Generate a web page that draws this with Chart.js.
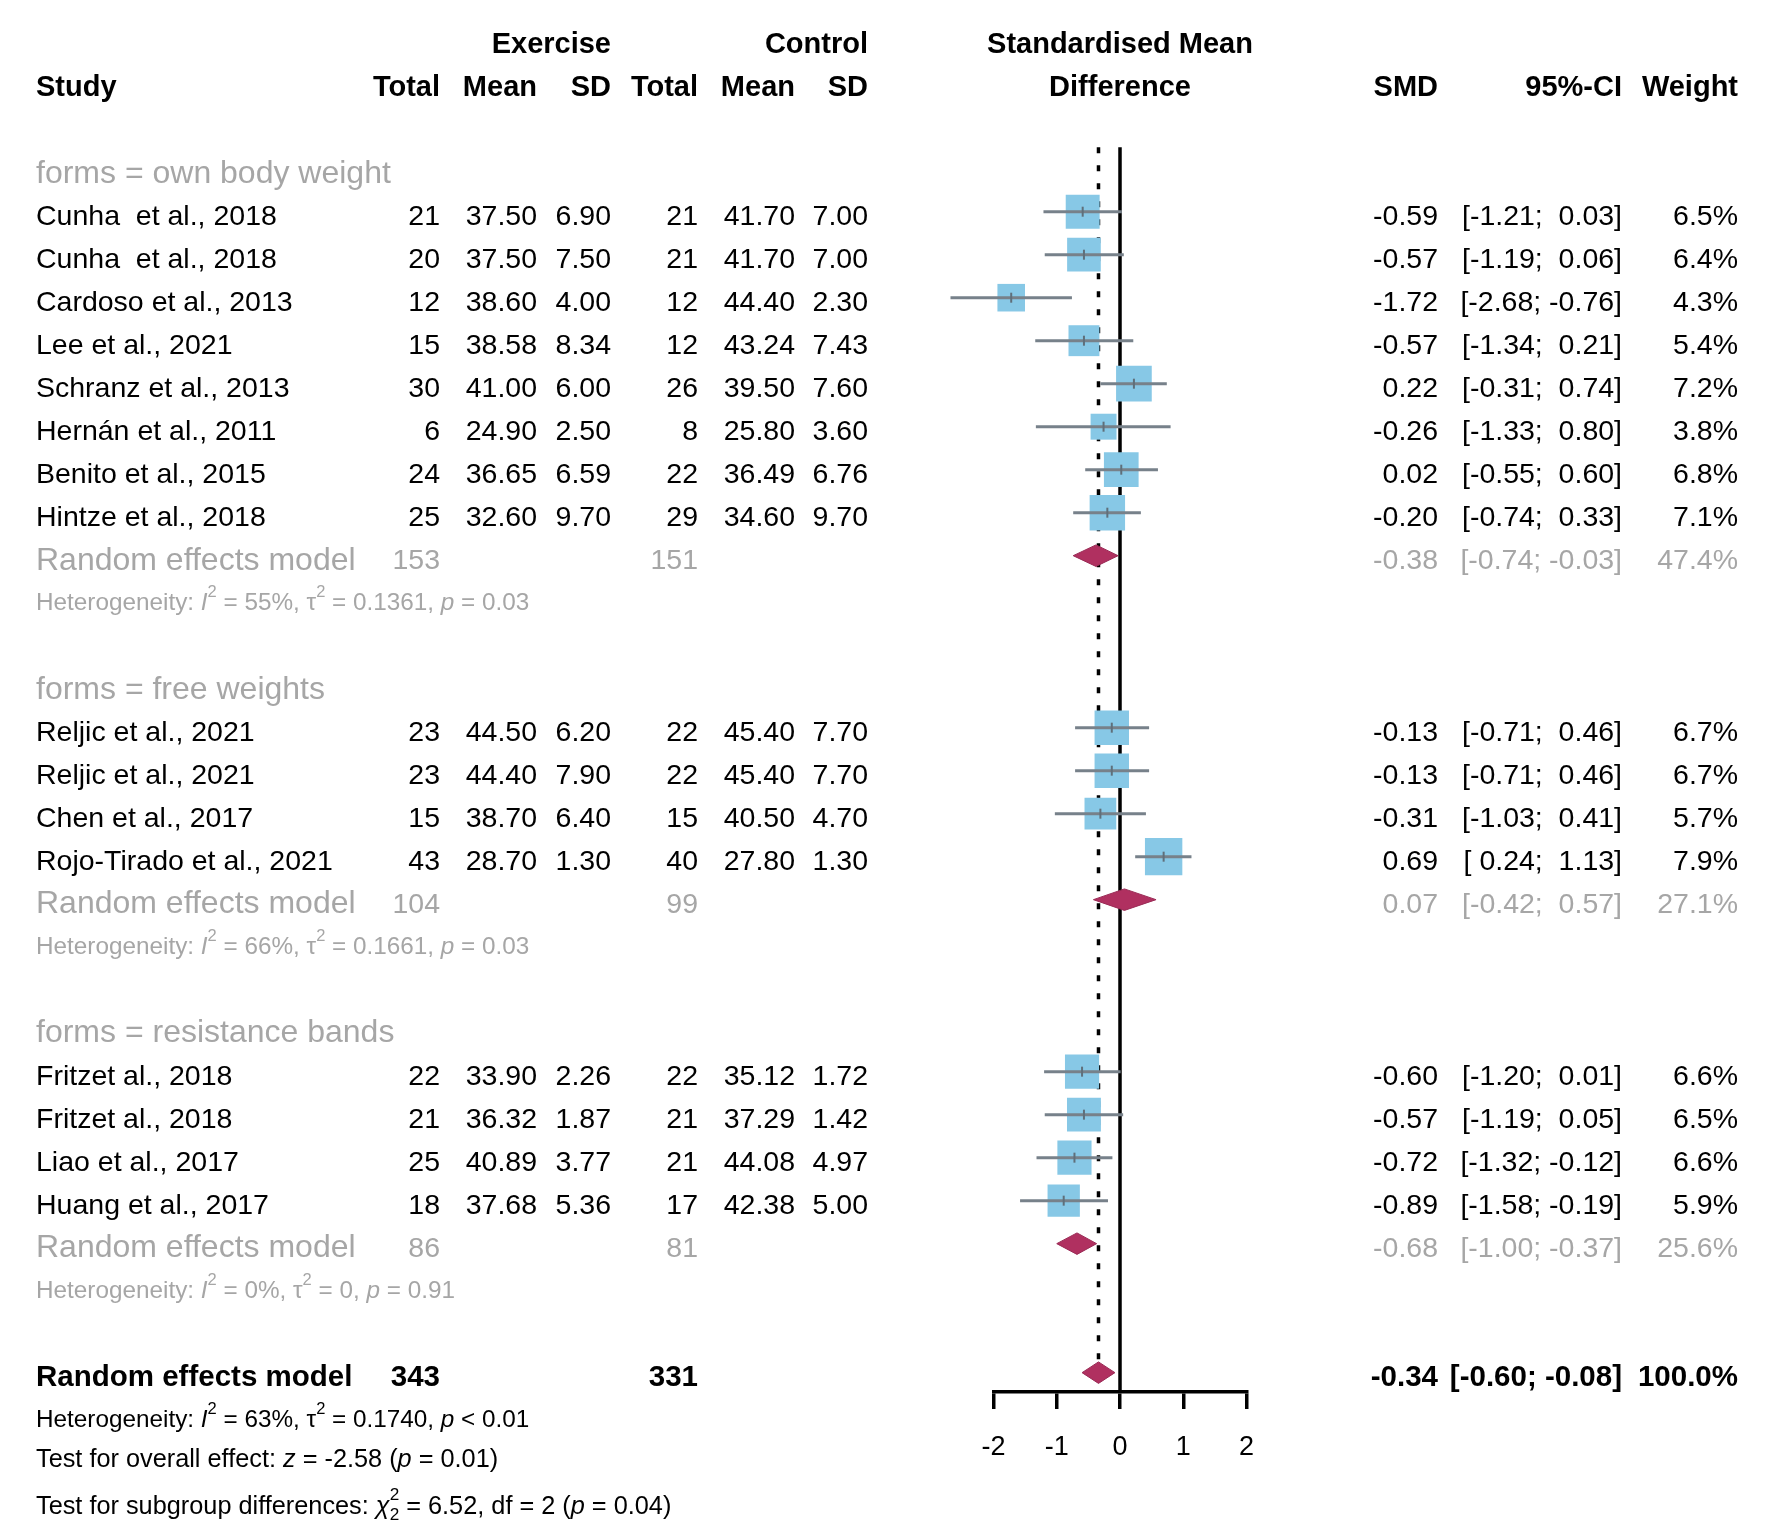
<!DOCTYPE html>
<html>
<head>
<meta charset="utf-8">
<title>Forest plot</title>
<script src="https://cdn.jsdelivr.net/npm/chart.js@4.4.1/dist/chart.umd.min.js"></script>
<style>
  html, body { margin: 0; padding: 0; background: #fff; }
  canvas { display: block; }
</style>
</head>
<body>
<canvas id="forest" width="1772" height="1539" style="width:1772px;height:1539px"></canvas>
<script>
// ---- data ----
const groupNames = ['own body weight', 'free weights', 'resistance bands'];

const studyGroup = [0, 0, 0, 0, 0, 0, 0, 0, 1, 1, 1, 1, 2, 2, 2, 2];
const studyNames = [
    'Cunha  et al., 2018', 'Cunha  et al., 2018', 'Cardoso et al., 2013', 'Lee et al., 2021',
    'Schranz et al., 2013', 'Hernán et al., 2011', 'Benito et al., 2015', 'Hintze et al., 2018',
    'Reljic et al., 2021', 'Reljic et al., 2021', 'Chen et al., 2017', 'Rojo-Tirado et al., 2021',
    'Fritzet al., 2018', 'Fritzet al., 2018', 'Liao et al., 2017', 'Huang et al., 2017'
];
const expTotal = [21, 20, 12, 15, 30, 6, 24, 25, 23, 23, 15, 43, 22, 21, 25, 18];
const expMean = [37.50, 37.50, 38.60, 38.58, 41.00, 24.90, 36.65, 32.60, 44.50, 44.40, 38.70, 28.70, 33.90, 36.32, 40.89, 37.68];
const expSD = [6.90, 7.50, 4.00, 8.34, 6.00, 2.50, 6.59, 9.70, 6.20, 7.90, 6.40, 1.30, 2.26, 1.87, 3.77, 5.36];
const ctrlTotal = [21, 21, 12, 12, 26, 8, 22, 29, 22, 22, 15, 40, 22, 21, 21, 17];
const ctrlMean = [41.70, 41.70, 44.40, 43.24, 39.50, 25.80, 36.49, 34.60, 45.40, 45.40, 40.50, 27.80, 35.12, 37.29, 44.08, 42.38];
const ctrlSD = [7.00, 7.00, 2.30, 7.43, 7.60, 3.60, 6.76, 9.70, 7.70, 7.70, 4.70, 1.30, 1.72, 1.42, 4.97, 5.00];
const smd = [-0.59, -0.57, -1.72, -0.57, 0.22, -0.26, 0.02, -0.20, -0.13, -0.13, -0.31, 0.69, -0.60, -0.57, -0.72, -0.89];
const ciLow = [-1.21, -1.19, -2.68, -1.34, -0.31, -1.33, -0.55, -0.74, -0.71, -0.71, -1.03, 0.24, -1.20, -1.19, -1.32, -1.58];
const ciHigh = [0.03, 0.06, -0.76, 0.21, 0.74, 0.80, 0.60, 0.33, 0.46, 0.46, 0.41, 1.13, 0.01, 0.05, -0.12, -0.19];
const weight = [6.5, 6.4, 4.3, 5.4, 7.2, 3.8, 6.8, 7.1, 6.7, 6.7, 5.7, 7.9, 6.6, 6.5, 6.6, 5.9];

const groupExpTotal = [153, 104, 86];
const groupCtrlTotal = [151, 99, 81];
const groupSmd = [-0.38, 0.07, -0.68];
const groupLow = [-0.74, -0.42, -1.00];
const groupHigh = [-0.03, 0.57, -0.37];
const groupWeight = [47.4, 27.1, 25.6];
const groupI2 = ['55%', '66%', '0%'];
const groupTau2 = ['0.1361', '0.1661', '0'];
const groupP = ['= 0.03', '= 0.03', '= 0.91'];

const overallExpTotal = 343;
const overallCtrlTotal = 331;
const overallSmd = -0.34;
const overallLow = -0.60;
const overallHigh = -0.08;
const overallWeight = 100.0;
const overallI2 = '63%';
const overallTau2 = '0.1740';
const overallP = '< 0.01';
const overallZ = '-2.58';
const overallZp = '= 0.01';
const subgroupChi2 = '6.52';
const subgroupDf = '2';
const subgroupP = '= 0.04';

const tickValues = [-2, -1, 0, 1, 2];
const tickLabels = ['-2', '-1', '0', '1', '2'];

// ---- layout / style ----
const FONT = '"Liberation Sans", Arial, sans-serif';
const GREY = '#a6a6a6';
const rowTop = -0.5;       // top end of the reference lines
const rowAxis = 28.45;     // row where the x axis sits
const textShift = 5;
const squareScale = 13.3;
const diamondHalf = 0.25;
const col = { study: 36, eTot: 440, eMean: 537, eSD: 611, cTot: 698, cMean: 795, cSD: 868, smd: 1438, ci: 1622, wt: 1738 };

// rows: group header, studies, random effects, heterogeneity, blank
const studyRow = [];
const groupHeaderRow = [];
const groupRERow = [];
const groupHetRow = [];
let r = 0;
groupNames.forEach((g, gi) => {
    groupHeaderRow.push(r);
    studyGroup.forEach((sg, i) => { if (sg === gi) { r += 1; studyRow[i] = r; } });
    groupRERow.push(r + 1);
    groupHetRow.push(r + 2);
    r += 4;
});
const overallRow = r;

const fmt2 = v => v.toFixed(2);
const ciText = (lo, hi) => {
    const f = v => (v < 0 ? '' : ' ') + v.toFixed(2);
    return '[' + f(lo) + '; ' + f(hi) + ']';
};

// ---- datasets ----
const ciPoints = [];
smd.forEach((v, i) => {
    ciPoints.push({ x: ciLow[i], y: studyRow[i] }, { x: ciHigh[i], y: studyRow[i] }, { x: null, y: null });
});
const squarePoints = smd.map((v, i) => ({ x: v, y: studyRow[i] }));
const squareRadius = weight.map(w => squareScale * Math.sqrt(w) / Math.SQRT2);

function setFont(ctx, size, bold, italic) {
    ctx.font = (italic ? 'italic ' : '') + (bold ? 'bold ' : '') + size + 'px ' + FONT;
}

function put(ctx, text, x, y, align, size, color, bold) {
    setFont(ctx, size, bold, false);
    ctx.fillStyle = color;
    ctx.textAlign = align;
    ctx.fillText(text, x, y);
}

// runs of text with italics, superscripts and stacked sub/superscripts
function putRuns(ctx, runs, x, y, size, color) {
    ctx.fillStyle = color;
    ctx.textAlign = 'left';
    let px = x;
    const small = size * 0.68;
    runs.forEach(run => {
        if (run.sup !== undefined && run.sub !== undefined) {
            setFont(ctx, small, false, false);
            ctx.fillText(run.sup, px, y - size * 0.45);
            ctx.fillText(run.sub, px, y + size * 0.35);
            px += Math.max(ctx.measureText(run.sup).width, ctx.measureText(run.sub).width);
        } else if (run.sup !== undefined) {
            setFont(ctx, small, false, false);
            ctx.fillText(run.sup, px, y - size * 0.45);
            px += ctx.measureText(run.sup).width;
        } else {
            setFont(ctx, size, false, !!run.it);
            ctx.fillText(run.t, px, y);
            px += ctx.measureText(run.t).width;
        }
    });
}

function hetRuns(i2, tau2, p) {
    return [
        { t: 'Heterogeneity: ' }, { t: 'I', it: true }, { sup: '2' }, { t: ' = ' + i2 + ', ' },
        { t: 'τ' }, { sup: '2' }, { t: ' = ' + tau2 + ', ' }, { t: 'p', it: true }, { t: ' ' + p }
    ];
}

const diamondPlugin = {
    id: 'diamonds',
    afterDatasetsDraw(chart) {
        const ctx = chart.ctx;
        const xs = chart.scales.x, ys = chart.scales.y;
        const draw = (est, lo, hi, row) => {
            ctx.beginPath();
            ctx.moveTo(xs.getPixelForValue(lo), ys.getPixelForValue(row));
            ctx.lineTo(xs.getPixelForValue(est), ys.getPixelForValue(row - diamondHalf));
            ctx.lineTo(xs.getPixelForValue(hi), ys.getPixelForValue(row));
            ctx.lineTo(xs.getPixelForValue(est), ys.getPixelForValue(row + diamondHalf));
            ctx.closePath();
            ctx.fillStyle = '#b03060';
            ctx.fill();
            ctx.strokeStyle = '#9a2a55';
            ctx.lineWidth = 1;
            ctx.stroke();
        };
        ctx.save();
        groupSmd.forEach((v, g) => draw(v, groupLow[g], groupHigh[g], groupRERow[g]));
        draw(overallSmd, overallLow, overallHigh, overallRow);
        ctx.restore();
    }
};

const tablePlugin = {
    id: 'forestTable',
    afterDraw(chart) {
        const ctx = chart.ctx;
        const xs = chart.scales.x, ys = chart.scales.y;
        const ry = row => ys.getPixelForValue(row) + textShift;
        ctx.save();
        ctx.textBaseline = 'middle';

        // headers
        const hs = 29;
        const h1 = ry(-3), h2 = ry(-2);
        put(ctx, 'Exercise', col.eSD, h1, 'right', hs, '#000', true);
        put(ctx, 'Control', col.cSD, h1, 'right', hs, '#000', true);
        put(ctx, 'Standardised Mean', xs.getPixelForValue(0), h1, 'center', hs, '#000', true);
        put(ctx, 'Study', col.study, h2, 'left', hs, '#000', true);
        put(ctx, 'Total', col.eTot, h2, 'right', hs, '#000', true);
        put(ctx, 'Mean', col.eMean, h2, 'right', hs, '#000', true);
        put(ctx, 'SD', col.eSD, h2, 'right', hs, '#000', true);
        put(ctx, 'Total', col.cTot, h2, 'right', hs, '#000', true);
        put(ctx, 'Mean', col.cMean, h2, 'right', hs, '#000', true);
        put(ctx, 'SD', col.cSD, h2, 'right', hs, '#000', true);
        put(ctx, 'Difference', xs.getPixelForValue(0), h2, 'center', hs, '#000', true);
        put(ctx, 'SMD', col.smd, h2, 'right', hs, '#000', true);
        put(ctx, '95%-CI', col.ci, h2, 'right', hs, '#000', true);
        put(ctx, 'Weight', col.wt, h2, 'right', hs, '#000', true);

        // studies
        const fs = 28.5;
        studyNames.forEach((name, i) => {
            const y = ry(studyRow[i]);
            put(ctx, name, col.study, y, 'left', fs, '#000');
            put(ctx, String(expTotal[i]), col.eTot, y, 'right', fs, '#000');
            put(ctx, fmt2(expMean[i]), col.eMean, y, 'right', fs, '#000');
            put(ctx, fmt2(expSD[i]), col.eSD, y, 'right', fs, '#000');
            put(ctx, String(ctrlTotal[i]), col.cTot, y, 'right', fs, '#000');
            put(ctx, fmt2(ctrlMean[i]), col.cMean, y, 'right', fs, '#000');
            put(ctx, fmt2(ctrlSD[i]), col.cSD, y, 'right', fs, '#000');
            put(ctx, fmt2(smd[i]), col.smd, y, 'right', fs, '#000');
            put(ctx, ciText(ciLow[i], ciHigh[i]), col.ci, y, 'right', fs, '#000');
            put(ctx, weight[i].toFixed(1) + '%', col.wt, y, 'right', fs, '#000');
        });

        // subgroups
        const gs = 32;
        groupNames.forEach((g, gi) => {
            put(ctx, 'forms = ' + g, col.study, ry(groupHeaderRow[gi]), 'left', gs, GREY);
            const y = ry(groupRERow[gi]);
            put(ctx, 'Random effects model', col.study, y, 'left', gs, GREY);
            put(ctx, String(groupExpTotal[gi]), col.eTot, y, 'right', fs, GREY);
            put(ctx, String(groupCtrlTotal[gi]), col.cTot, y, 'right', fs, GREY);
            put(ctx, fmt2(groupSmd[gi]), col.smd, y, 'right', fs, GREY);
            put(ctx, ciText(groupLow[gi], groupHigh[gi]), col.ci, y, 'right', fs, GREY);
            put(ctx, groupWeight[gi].toFixed(1) + '%', col.wt, y, 'right', fs, GREY);
            putRuns(ctx, hetRuns(groupI2[gi], groupTau2[gi], groupP[gi]), col.study, ry(groupHetRow[gi]), 24.3, GREY);
        });

        // overall
        const oy = ry(overallRow);
        const os = 29.5;
        put(ctx, 'Random effects model', col.study, oy, 'left', os, '#000', true);
        put(ctx, String(overallExpTotal), col.eTot, oy, 'right', os, '#000', true);
        put(ctx, String(overallCtrlTotal), col.cTot, oy, 'right', os, '#000', true);
        put(ctx, fmt2(overallSmd), col.smd, oy, 'right', os, '#000', true);
        put(ctx, ciText(overallLow, overallHigh), col.ci, oy, 'right', os, '#000', true);
        put(ctx, overallWeight.toFixed(1) + '%', col.wt, oy, 'right', os, '#000', true);

        putRuns(ctx, hetRuns(overallI2, overallTau2, overallP), col.study, ry(overallRow + 1), 24.3, '#000');
        putRuns(ctx, [
            { t: 'Test for overall effect: ' }, { t: 'z', it: true }, { t: ' = ' + overallZ + ' (' },
            { t: 'p', it: true }, { t: ' ' + overallZp + ')' }
        ], col.study, ry(overallRow + 1.92), 25.3, '#000');
        putRuns(ctx, [
            { t: 'Test for subgroup differences: ' }, { t: 'χ', it: true }, { sup: '2', sub: subgroupDf },
            { t: ' = ' + subgroupChi2 + ', df = ' + subgroupDf + ' (' }, { t: 'p', it: true }, { t: ' ' + subgroupP + ')' }
        ], col.study, ry(overallRow + 3.0), 25.3, '#000');

        ctx.restore();
    }
};

new Chart(document.getElementById('forest').getContext('2d'), {
    type: 'line',
    data: {
        datasets: [
            {
                type: 'scatter',
                data: squarePoints.map(p => ({ x: p.x, y: p.y })),
                pointStyle: 'line',
                pointRotation: 90,
                pointRadius: 5,
                borderColor: '#5f6f7a',
                borderWidth: 2,
                clip: false,
                order: 1
            },
            {
                data: ciPoints,
                borderColor: '#77818a',
                borderWidth: 3,
                pointRadius: 0,
                fill: false,
                spanGaps: false,
                clip: false,
                order: 2
            },
            {
                type: 'scatter',
                data: squarePoints,
                pointStyle: 'rect',
                pointRadius: squareRadius,
                backgroundColor: '#87c8e6',
                borderWidth: 0,
                clip: false,
                order: 3
            },
            {
                data: [{ x: overallSmd, y: rowTop }, { x: overallSmd, y: overallRow - diamondHalf }],
                borderColor: '#000',
                borderWidth: 3.5,
                borderDash: [6, 12],
                pointRadius: 0,
                clip: false,
                order: 4
            },
            {
                data: [{ x: 0, y: rowTop }, { x: 0, y: rowAxis }],
                borderColor: '#000',
                borderWidth: 3.5,
                pointRadius: 0,
                clip: false,
                order: 5
            }
        ]
    },
    options: {
        responsive: false,
        devicePixelRatio: 1,
        animation: false,
        events: [],
        layout: { padding: { left: 993.5, right: 525.5, top: 147.2, bottom: 67 } },
        plugins: { legend: { display: false }, tooltip: { enabled: false } },
        scales: {
            x: {
                type: 'linear',
                min: -2,
                max: 2,
                afterBuildTicks: scale => { scale.ticks = tickValues.map(v => ({ value: v })); },
                afterFit: scale => { scale.height = 80; },
                ticks: {
                    autoSkip: false,
                    maxRotation: 0,
                    padding: 22,
                    color: '#000',
                    font: { family: FONT, size: 27 },
                    callback: v => tickLabels[tickValues.indexOf(v)]
                },
                grid: { drawOnChartArea: false, drawTicks: true, tickLength: 17, color: '#000', lineWidth: 3.5 },
                border: { display: true, color: '#000', width: 3.5 }
            },
            y: {
                type: 'linear',
                reverse: true,
                min: rowTop,
                max: rowAxis,
                display: false
            }
        }
    },
    plugins: [diamondPlugin, tablePlugin]
});
</script>
</body>
</html>
